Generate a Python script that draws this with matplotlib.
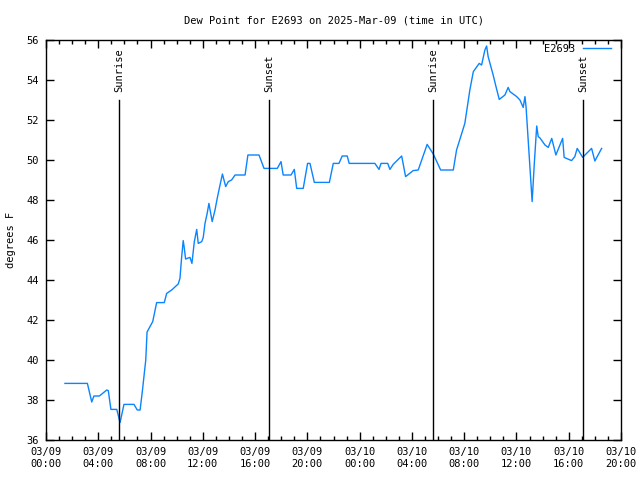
import matplotlib
matplotlib.use('Agg')
import matplotlib.pyplot as plt
import matplotlib.dates as mdates
import pandas as pd

# dew point readings (UTC)
times = [
    '03-09 01:27', '03-09 03:10', '03-09 03:30', '03-09 03:40', '03-09 04:05',
    '03-09 04:39', '03-09 04:46', '03-09 04:58', '03-09 05:25', '03-09 05:40',
    '03-09 05:58', '03-09 06:44', '03-09 06:59', '03-09 07:12', '03-09 07:23',
    '03-09 07:38', '03-09 07:44', '03-09 08:10', '03-09 08:28', '03-09 09:03',
    '03-09 09:14', '03-09 09:37', '03-09 10:07', '03-09 10:15', '03-09 10:23',
    '03-09 10:30', '03-09 10:34', '03-09 10:41', '03-09 11:01', '03-09 11:10',
    '03-09 11:21', '03-09 11:32', '03-09 11:39', '03-09 11:55', '03-09 12:02',
    '03-09 12:10', '03-09 12:20', '03-09 12:28', '03-09 12:43', '03-09 12:56',
    '03-09 13:06', '03-09 13:19', '03-09 13:30', '03-09 13:45', '03-09 13:57',
    '03-09 14:12', '03-09 14:28', '03-09 15:14', '03-09 15:27', '03-09 16:18',
    '03-09 16:41', '03-09 17:42', '03-09 17:59', '03-09 18:09', '03-09 18:45',
    '03-09 19:00', '03-09 19:11', '03-09 19:41', '03-09 20:01', '03-09 20:12',
    '03-09 20:32', '03-09 21:41', '03-09 21:59', '03-09 22:25', '03-09 22:40',
    '03-09 23:03', '03-09 23:12', '03-10 01:10', '03-10 01:29', '03-10 01:38',
    '03-10 02:09', '03-10 02:19', '03-10 02:34', '03-10 03:13', '03-10 03:31',
    '03-10 04:06', '03-10 04:29', '03-10 05:10', '03-10 05:38', '03-10 06:12',
    '03-10 07:10', '03-10 07:25', '03-10 08:03', '03-10 08:26', '03-10 08:42',
    '03-10 09:09', '03-10 09:20', '03-10 09:35', '03-10 09:43', '03-10 09:50',
    '03-10 10:13', '03-10 10:26', '03-10 10:41', '03-10 11:07', '03-10 11:22',
    '03-10 11:30', '03-10 12:01', '03-10 12:16', '03-10 12:31', '03-10 12:39',
    '03-10 12:44', '03-10 13:12', '03-10 13:22', '03-10 13:33', '03-10 13:40',
    '03-10 13:48', '03-10 14:11', '03-10 14:26', '03-10 14:42', '03-10 15:01',
    '03-10 15:32', '03-10 15:39', '03-10 16:13', '03-10 16:28', '03-10 16:39',
    '03-10 17:04', '03-10 17:22', '03-10 17:45', '03-10 18:00', '03-10 18:31',
]
dewpoint = [
    38.83, 38.83, 37.9, 38.2, 38.2,
    38.5, 38.47, 37.53, 37.53, 36.87,
    37.78, 37.78, 37.5, 37.5, 38.5,
    40.0, 41.4, 41.92, 42.87, 42.87,
    43.33, 43.5, 43.8, 44.08, 45.17,
    45.97, 45.67, 45.05, 45.13, 44.83,
    45.92, 46.53, 45.83, 45.92, 46.13,
    46.83, 47.33, 47.83, 46.92, 47.5,
    48.08, 48.75, 49.3, 48.67, 48.92,
    49.0, 49.25, 49.25, 50.25, 50.25,
    49.58, 49.58, 49.92, 49.25, 49.25,
    49.53, 48.58, 48.58, 49.83, 49.83,
    48.88, 48.88, 49.83, 49.83, 50.2,
    50.2, 49.83, 49.83, 49.53, 49.83,
    49.83, 49.53, 49.78, 50.2, 49.17,
    49.47, 49.5, 50.78, 50.3, 49.5,
    49.5, 50.5, 51.83, 53.5, 54.42,
    54.83, 54.75, 55.5, 55.7, 55.17,
    54.25, 53.67, 53.03, 53.25, 53.63,
    53.42, 53.17, 53.0, 52.63, 53.17,
    52.67, 47.92, 49.83, 51.7, 51.17,
    51.1, 50.75, 50.63, 51.08, 50.25,
    51.08, 50.13, 49.97, 50.17, 50.58,
    50.13, 50.33, 50.58, 49.95, 50.58,
]
sun_events = ['03-09 05:36', '03-09 17:05', '03-10 05:37', '03-10 17:05']
sun_labels = ['Sunrise', 'Sunset', 'Sunrise', 'Sunset']

def to_dt(s):
    return pd.to_datetime('2025-' + s, format='%Y-%m-%d %H:%M')

x = [to_dt(t) for t in times]

plt.rcParams['font.family'] = ['DejaVu Sans Mono']
plt.rcParams['font.size'] = 7.5

fig = plt.figure(figsize=(6.4, 4.8), dpi=100)
ax = fig.add_axes([46 / 640, 40 / 480, 575 / 640, 400 / 480])

ax.plot(x, dewpoint, color='#0a84ff', lw=1.0, label='E2693')

for s, lab in zip(sun_events, sun_labels):
    t = to_dt(s)
    ax.plot([t, t], [36, 53], color='black', lw=1.0)
    ax.text(t, 53.4, lab, rotation=90, ha='center', va='bottom')

ax.set_xlim(to_dt('03-09 00:00'), to_dt('03-10 20:00'))
ax.set_ylim(36, 56)
ax.set_yticks(range(36, 57, 2))
ax.xaxis.set_major_locator(mdates.HourLocator(byhour=range(0, 24, 4)))
ax.xaxis.set_minor_locator(mdates.HourLocator())
ax.xaxis.set_major_formatter(mdates.DateFormatter('%m/%d\n%H:%M'))

ax.tick_params(which='both', direction='in', top=True, right=True, width=1)
ax.tick_params(which='major', length=6, pad=5)
ax.tick_params(which='minor', length=3)
for sp in ax.spines.values():
    sp.set_linewidth(1.0)

fig.text(11 / 640, 0.5, 'degrees F', rotation=90, ha='center', va='center')
ax.set_title('Dew Point for E2693 on 2025-Mar-09 (time in UTC)',
             fontsize=7.5, pad=12)

leg = ax.legend(loc='upper right', frameon=False, handlelength=2.7,
                handletextpad=0.75, markerfirst=False, borderaxespad=0,
                borderpad=0, bbox_to_anchor=(611 / 640, 1 - 44 / 480),
                bbox_transform=fig.transFigure)

fig.savefig('out.png', dpi=100)
